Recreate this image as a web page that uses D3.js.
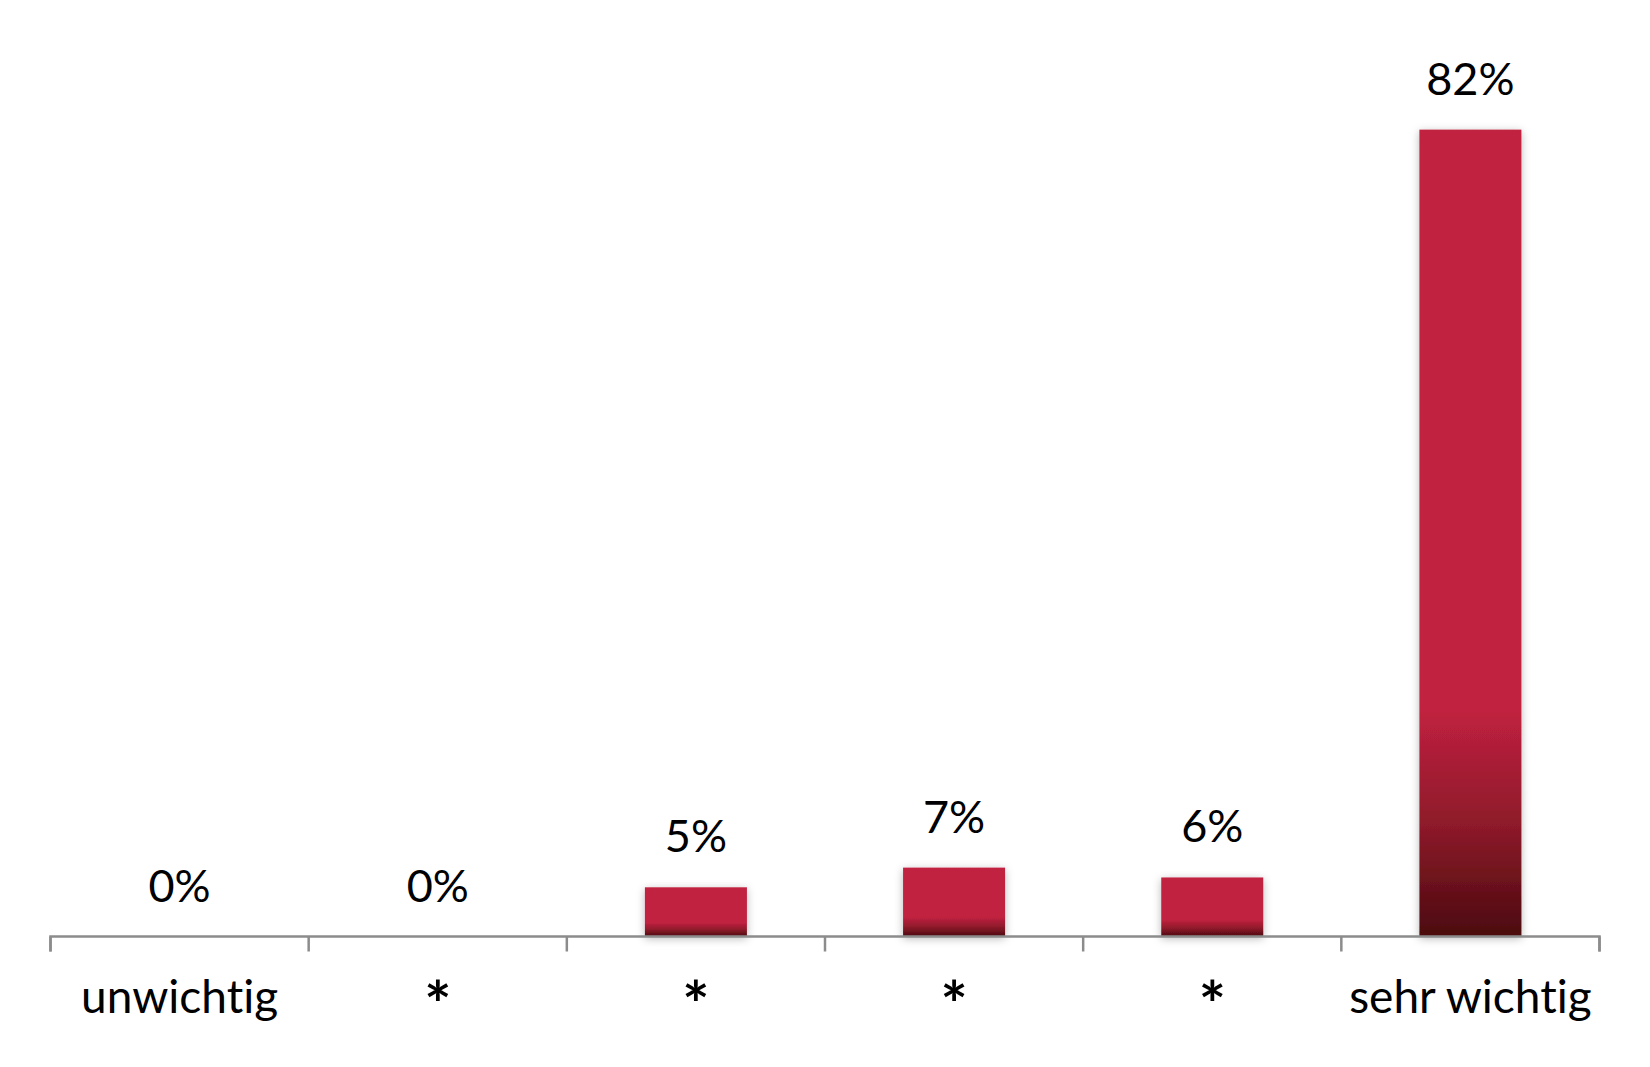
<!DOCTYPE html>
<html>
<head>
<meta charset="utf-8">
<script src="https://cdn.jsdelivr.net/npm/d3@7"></script>
<style>
  html, body { margin: 0; padding: 0; background: #fff; }
  svg { display: block; }
  text { font-family: Lato, "Noto Sans", sans-serif; fill: #000; font-variant-ligatures: none; font-feature-settings: "liga" 0, "clig" 0; }
</style>
</head>
<body>
<div id="chart"></div>
<script>
const categories = ["unwichtig", "*", "*", "*", "*", "sehr wichtig"];
const values = [0, 0, 5, 7, 6, 82];
const valueLabels = ["0%", "0%", "5%", "7%", "6%", "82%"];

const W = 1650, H = 1067;
const x0 = 50.5, x1 = 1599.5, axisY = 936.5;
const pxPerUnit = 9.84;

const svg = d3.select("#chart").append("svg").attr("width", W).attr("height", H);
const defs = svg.append("defs");

const grad = defs.append("linearGradient").attr("id", "barGrad")
  .attr("x1", 0).attr("y1", 0).attr("x2", 0).attr("y2", 1);
grad.append("stop").attr("offset", "0").attr("stop-color", "#C0213F");
grad.append("stop").attr("offset", "0.72").attr("stop-color", "#C0213F");
grad.append("stop").attr("offset", "0.86").attr("stop-color", "#8E1A2A");
grad.append("stop").attr("offset", "1").attr("stop-color", "#4B0A0F");

const shadow = defs.append("filter").attr("id", "shadow")
  .attr("x", "-20%").attr("y", "-10%").attr("width", "140%").attr("height", "130%");
shadow.append("feDropShadow").attr("dx", 0).attr("dy", 2).attr("stdDeviation", 4)
  .attr("flood-color", "#000").attr("flood-opacity", 0.28);

const xb = d3.scaleBand().domain(d3.range(categories.length)).range([x0, x1]).padding(0);
const y = d3.scaleLinear().domain([0, 100]).range([axisY, axisY - 100 * pxPerUnit]);

// bars
svg.append("g").selectAll("rect").data(values).join("rect")
  .attr("x", (d, i) => xb(i) + xb.bandwidth() / 2 - 51)
  .attr("width", 102)
  .attr("y", d => y(d))
  .attr("height", d => axisY - y(d))
  .attr("fill", "url(#barGrad)")
  .attr("filter", "url(#shadow)")
  .style("display", d => d > 0 ? null : "none");

// axis
const axis = d3.axisBottom(xb).tickSize(15).tickFormat("").tickSizeOuter(15);
const ag = svg.append("g").attr("transform", `translate(0,${axisY})`).call(axis);
ag.select(".domain").attr("stroke", "#8c8c8c").attr("stroke-width", 2.5)
  .attr("d", `M${x0},15V0H${x1}V15`);
ag.selectAll(".tick").remove();
const tickPos = d3.range(categories.length + 1).map(i => i === categories.length ? x1 : xb(i));
svg.append("g").selectAll("line").data(tickPos).join("line")
  .attr("x1", d => d).attr("x2", d => d)
  .attr("y1", axisY).attr("y2", axisY + 15)
  .attr("stroke", "#8c8c8c").attr("stroke-width", 2.5);

// value labels
svg.append("g").selectAll("text").data(values).join("text")
  .attr("x", (d, i) => xb(i) + xb.bandwidth() / 2)
  .attr("y", d => y(d) - 35)
  .attr("text-anchor", "middle")
  .attr("font-size", 45)
  .text((d, i) => valueLabels[i]);

// category labels
svg.append("g").selectAll("text").data(categories).join("text")
  .attr("x", (d, i) => xb(i) + xb.bandwidth() / 2)
  .attr("y", d => d === "*" ? 1028 : 1013)
  .attr("text-anchor", "middle")
  .attr("font-size", d => d === "*" ? 64 : 46)
  .attr("font-weight", d => d === "*" ? 700 : 400)
  .text(d => d);
</script>
</body>
</html>
